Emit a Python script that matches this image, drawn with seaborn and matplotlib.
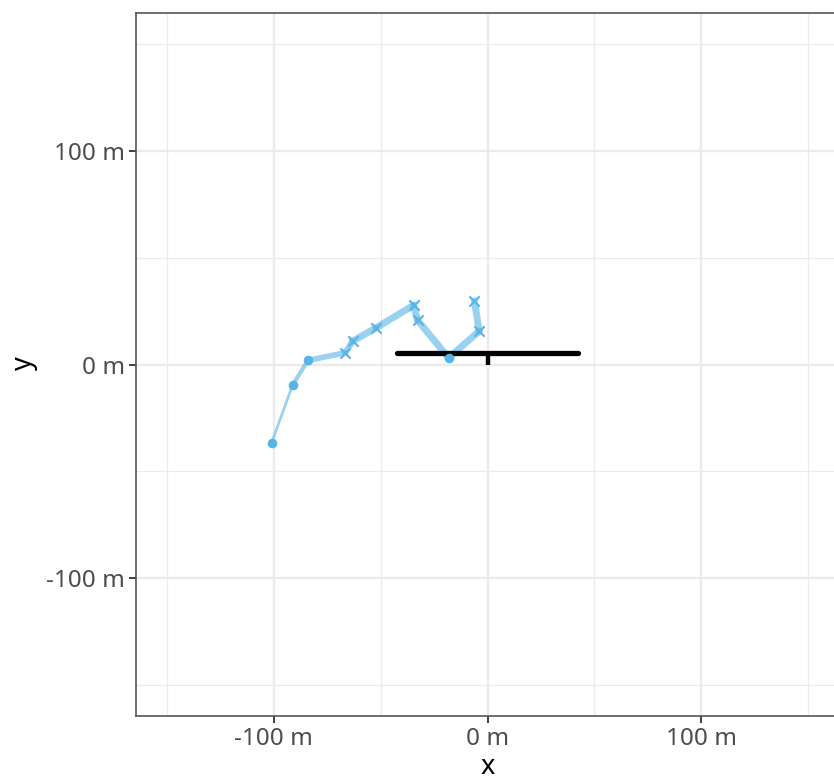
import matplotlib
matplotlib.use("Agg")
import matplotlib.pyplot as plt
import seaborn as sns
import pandas as pd
from matplotlib.ticker import FixedLocator, FuncFormatter

# trajectory (metres)
track_x = [-101.0, -91.2, -84.0, -66.6, -63.1, -52.2, -34.6, -32.7, -18.2, -3.9, -6.1]
track_y = [-36.7, -9.7, 1.9, 5.5, 10.9, 17.1, 27.7, 20.7, 3.1, 15.6, 29.7]
track_kind = ["circle", "circle", "circle", "cross", "cross", "cross",
              "cross", "cross", "circle", "cross", "cross"]
# relative weight of each step between consecutive points
step_weight = [0.2, 0.5, 0.75, 0.85, 1.0, 1.0, 1.0, 1.0, 1.0, 1.0]

# reference bar and its marker
bar_x = [-42.5, 42.5]
bar_y = [5.3, 5.3]
stem_x = [0.0, 0.0]
stem_y = [5.3, 0.0]

major_ticks = [-100, 0, 100]
minor_ticks = [-150, -50, 50, 150]
lim = 164.4

sns.set_theme(style="white")
plt.rcParams["font.family"] = ["Noto Sans", "DejaVu Sans"]

df = pd.DataFrame({"x": track_x, "y": track_y, "kind": track_kind})
blue = "#56B4E9"

fig = plt.figure(figsize=(8.34, 7.81), dpi=100)
ax = fig.add_axes([136 / 834, 65 / 781, 703 / 834, 703 / 781])

# gridlines
for v in minor_ticks:
    ax.axvline(v, color="#EBEBEB", lw=0.9, zorder=0)
    ax.axhline(v, color="#EBEBEB", lw=0.9, zorder=0)
for v in major_ticks:
    ax.axvline(v, color="#EBEBEB", lw=1.7, zorder=0)
    ax.axhline(v, color="#EBEBEB", lw=1.7, zorder=0)

# path segments with varying width
for i, w in enumerate(step_weight):
    seg = df.iloc[i:i + 2]
    sns.lineplot(data=seg, x="x", y="y", sort=False, ax=ax, color=blue,
                 alpha=0.6, lw=1.2 + 3.8 * w, solid_capstyle="round",
                 estimator=None, zorder=2)

sns.lineplot(x=bar_x, y=bar_y, ax=ax, color="black", lw=3.8,
             solid_capstyle="round", estimator=None, zorder=3)
sns.lineplot(x=stem_x, y=stem_y, ax=ax, color="black", lw=3.2,
             solid_capstyle="butt", estimator=None, sort=False, zorder=3)

circ = df[df["kind"] == "circle"]
cross = df[df["kind"] == "cross"]
sns.scatterplot(data=circ, x="x", y="y", ax=ax, color=blue, marker="o",
                s=48, linewidth=0, zorder=4)
sns.scatterplot(data=cross, x="x", y="y", ax=ax, color=blue, marker="x",
                s=55, linewidth=1.5, zorder=4)

ax.set_xlim(-lim, lim)
ax.set_ylim(-lim, lim)
ax.set_aspect("equal")
ax.xaxis.set_major_locator(FixedLocator(major_ticks))
ax.yaxis.set_major_locator(FixedLocator(major_ticks))
fmt = FuncFormatter(lambda v, p: f"{v:.0f} m")
ax.xaxis.set_major_formatter(fmt)
ax.yaxis.set_major_formatter(fmt)

for s in ax.spines.values():
    s.set_color("#555555")
    s.set_linewidth(1.2)
ax.tick_params(axis="both", length=5, width=1.3, color="#333333",
               labelsize=17.5, labelcolor="#4D4D4D", pad=3, bottom=True, left=True)
ax.set_xlabel("x", fontsize=19.5, color="black", labelpad=1.5)
ax.set_ylabel("y", fontsize=19.5, color="black", labelpad=6)

fig.savefig("out.png", dpi=100)
